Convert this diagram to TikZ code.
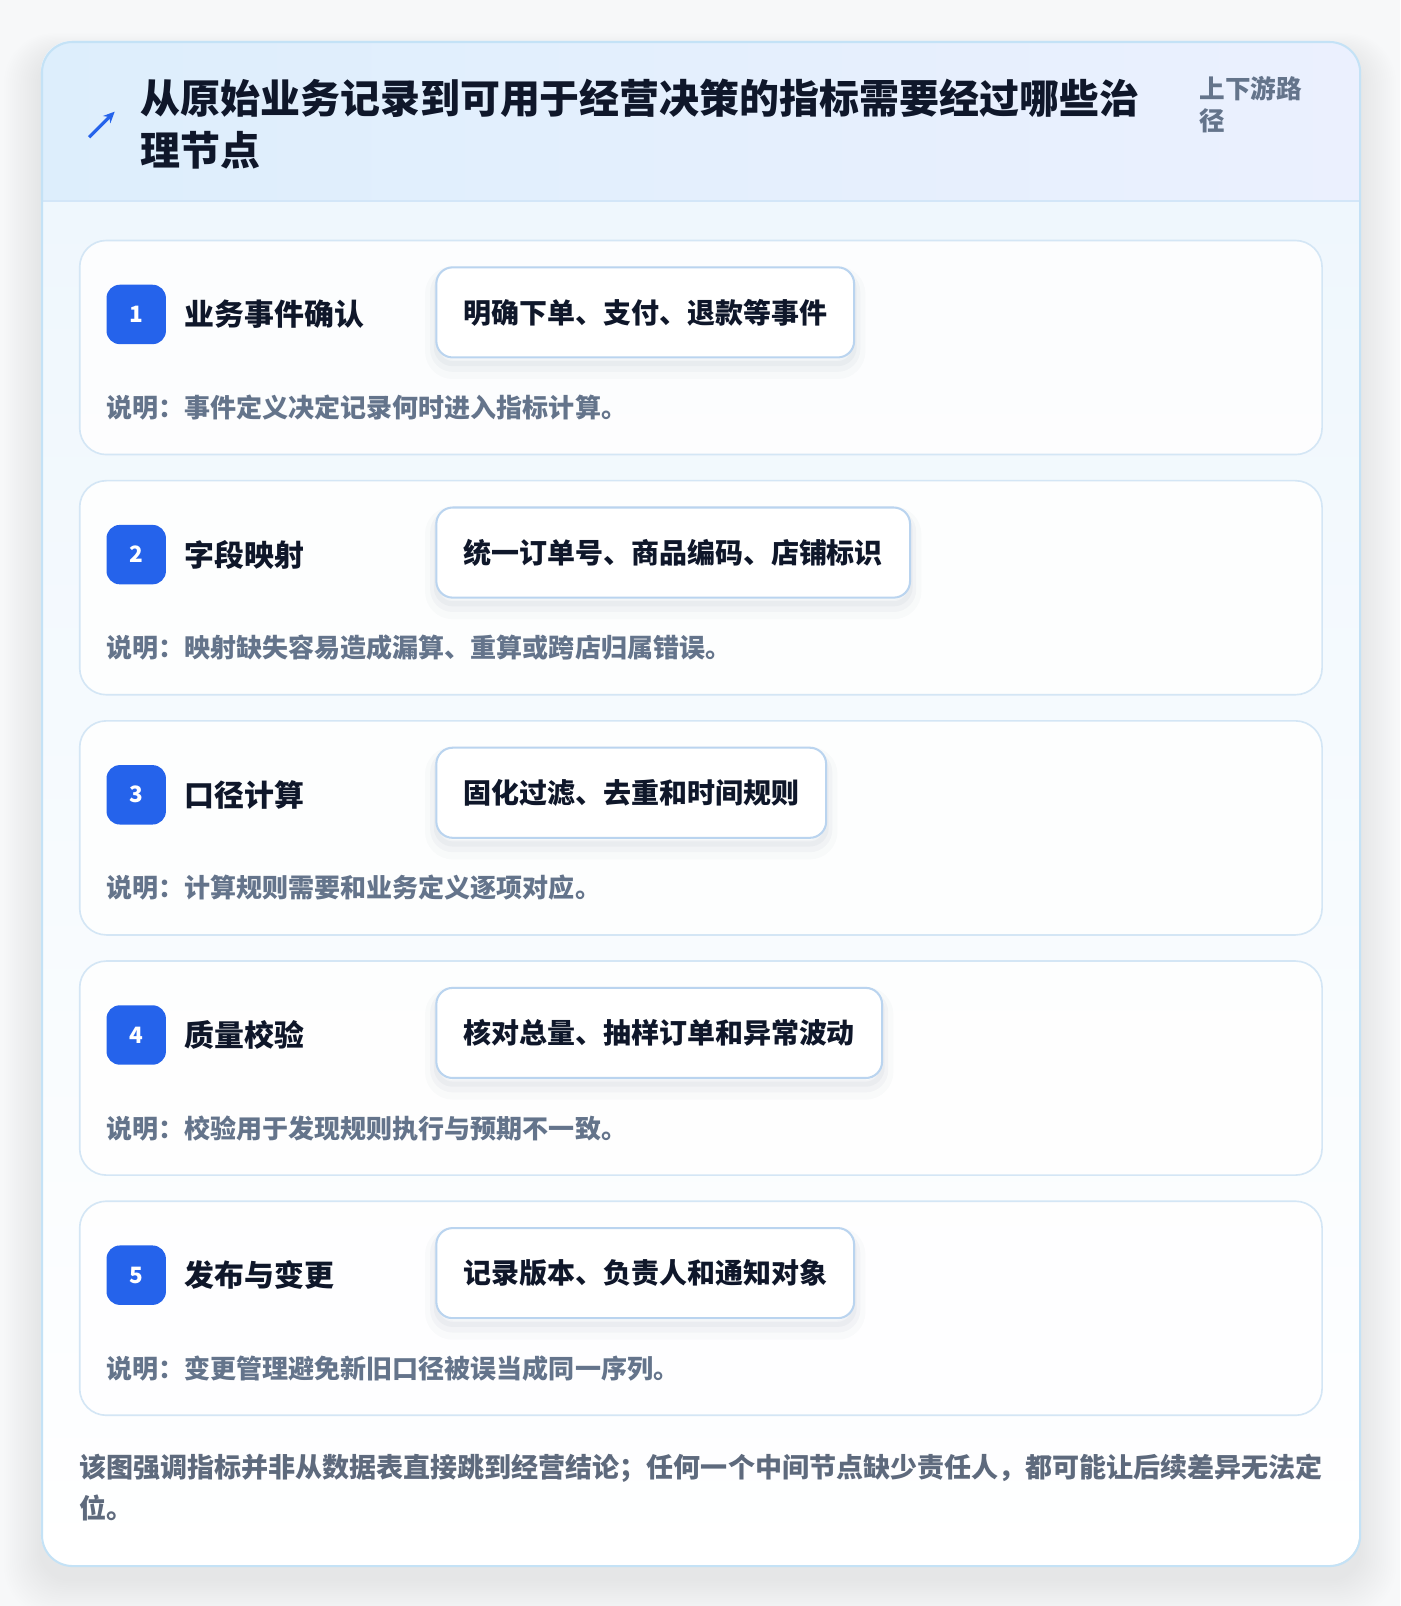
\documentclass[tikz,border=0pt]{standalone}
\usepackage{fontspec}
\setmainfont{Noto Sans CJK SC}
\usetikzlibrary{arrows.meta}
\definecolor{pagebg}{HTML}{F7F8F9}
\definecolor{ink}{HTML}{0F172A}
\definecolor{muted}{HTML}{64748B}
\definecolor{foot}{HTML}{5E6A7D}
\definecolor{accent}{HTML}{2563EB}
\definecolor{panelborder}{HTML}{C4E2F6}
\definecolor{headL}{HTML}{DDEEFC}
\definecolor{headR}{HTML}{EBF0FE}
\definecolor{headline}{HTML}{D3E6F8}
\definecolor{bodytop}{HTML}{EFF7FD}
\definecolor{cardborder}{HTML}{D4E6F5}
\definecolor{boxborder}{HTML}{BAD4EF}
\definecolor{shadowc}{HTML}{1E3A5F}
\begin{document}
\begin{tikzpicture}[x=1pt,y=-1pt,
  stepcard/.style={draw=cardborder, line width=1.6pt, fill=white, fill opacity=0.85, draw opacity=1,
    rounded corners=26pt, minimum width=1213pt, minimum height=209pt, inner sep=0pt},
  badge/.style={fill=accent, rounded corners=13pt, minimum size=58pt, inner sep=0pt,
    text=white, font=\fontsize{22}{26}\selectfont\bfseries},
  steptitle/.style={inner sep=0pt, text=ink, font=\fontsize{29.2}{35}\selectfont\bfseries},
  actionbox/.style={draw=boxborder, line width=2pt, fill=white, rounded corners=16pt,
    minimum height=88pt, inner xsep=26.5pt, inner ysep=0pt, text=ink,
    font=\fontsize{27.3}{32}\selectfont\bfseries,
    preaction={draw=shadowc, draw opacity=0.02, line width=22pt, transform canvas={yshift=-10pt}},
    preaction={draw=shadowc, draw opacity=0.03, line width=12pt, transform canvas={yshift=-8pt}},
    preaction={draw=shadowc, draw opacity=0.035, line width=5pt, transform canvas={yshift=-6pt}}},
  notetext/.style={inner sep=0pt, text=muted, font=\fontsize{25.4}{30}\selectfont\bfseries},
  titletext/.style={inner sep=0pt, align=left, text=ink, font=\fontsize{39}{51}\selectfont\bfseries},
  subtitle/.style={inner sep=0pt, align=left, text=muted, font=\fontsize{25}{32}\selectfont\bfseries},
  foottext/.style={inner sep=0pt, align=left, text=foot, font=\fontsize{26.4}{40}\selectfont\bfseries}
]
\useasboundingbox (0,0) rectangle (1367,1568);
\fill[pagebg] (0,0) rectangle (1367,1568);
% soft shadow of the panel
\foreach \k in {1,...,18}
  \fill[black, opacity=0.005, rounded corners={30+\k}] ({40-\k*2},{40-\k*1.2+14}) rectangle ({1327+\k*2},{1528+\k*2+14});
% panel background
\begin{scope}
  \clip[rounded corners=30pt] (40,40) rectangle (1327,1528);
  \fill[white] (40,40) rectangle (1327,1528);
  \shade[top color=bodytop, bottom color=white] (40,196) rectangle (1327,1528);
  \shade[left color=headL, right color=headR] (40,40) rectangle (1327,196);
  \draw[headline, line width=1.5pt] (40,196) -- (1327,196);
\end{scope}
\node[draw=panelborder, line width=2pt, rounded corners=30pt, minimum width=1287pt, minimum height=1488pt,
  inner sep=0pt, anchor=north west] (panel) at (40,40) {};
% header
\draw[accent, line width=3.2pt, -{Stealth[length=11pt,width=10pt]}] (87,134) -- (112,109);
\node[titletext, anchor=north west] (title) at (137,77) {从原始业务记录到可用于经营决策的指标需要经过哪些治\\理节点};
\node[subtitle, anchor=north west] (tag) at (1171,74) {上下游路\\径};
% steps
\foreach \i/\ti/\bx/\nt in {
  1/业务事件确认/明确下单、支付、退款等事件/说明：事件定义决定记录何时进入指标计算。,
  2/字段映射/统一订单号、商品编码、店铺标识/说明：映射缺失容易造成漏算、重算或跨店归属错误。,
  3/口径计算/固化过滤、去重和时间规则/说明：计算规则需要和业务定义逐项对应。,
  4/质量校验/核对总量、抽样订单和异常波动/说明：校验用于发现规则执行与预期不一致。,
  5/发布与变更/记录版本、负责人和通知对象/说明：变更管理避免新旧口径被误当成同一序列。}{
  \pgfmathsetmacro\ytop{234+(\i-1)*234.5}
  \node[stepcard, anchor=north west] (card\i) at (77,\ytop) {};
  \node[badge] (num\i) at (133,{\ytop+73}) {\i};
  \node[steptitle, anchor=west] (stitle\i) at (180,{\ytop+73}) {\ti};
  \node[actionbox, anchor=west] (box\i) at (425,{\ytop+71}) {\bx};
  \node[notetext, anchor=west] (note\i) at (104,{\ytop+164}) {\nt};
}
% footer
\node[foottext, anchor=north west] (footer) at (77,1419) {该图强调指标并非从数据表直接跳到经营结论；任何一个中间节点缺少责任人，都可能让后续差异无法定\\位。};
\end{tikzpicture}
\end{document}
